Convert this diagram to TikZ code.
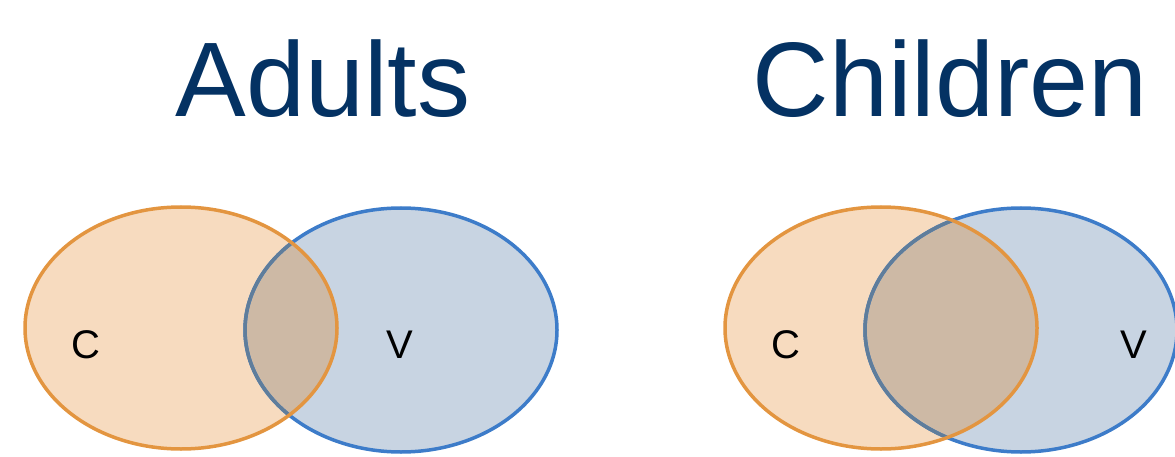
\documentclass[tikz,border=0pt]{standalone}
\usepackage{fontspec}
\setmainfont{Liberation Sans}
\definecolor{titleblue}{RGB}{4,50,99}
\definecolor{cfill}{RGB}{247,219,191}
\definecolor{cline}{RGB}{227,149,64}
\definecolor{vfill}{RGB}{200,212,226}
\definecolor{vline}{RGB}{61,124,201}
\definecolor{ofill}{RGB}{205,185,165}
\definecolor{oline}{RGB}{95,125,155}
\tikzset{
  title/.style={text=titleblue, font=\fontsize{106}{114}\selectfont, anchor=base, inner sep=0pt},
  setlabel/.style={text=black, font=\fontsize{40}{44}\selectfont, anchor=base, inner sep=0pt},
  ring/.style={line width=3.5pt},
}
\newcommand{\venn}[4]{% cx cy of C, cx cy of V
  \fill[cfill] (#1,#2) ellipse [x radius=156pt, y radius=121pt];
  \fill[vfill] (#3,#4) ellipse [x radius=156pt, y radius=122pt];
  \begin{scope}
    \clip (#1,#2) ellipse [x radius=156pt, y radius=121pt];
    \fill[ofill] (#3,#4) ellipse [x radius=156pt, y radius=122pt];
  \end{scope}
  \draw[ring, vline] (#3,#4) ellipse [x radius=156pt, y radius=122pt];
  \begin{scope}
    \clip (#1,#2) ellipse [x radius=154pt, y radius=119pt];
    \draw[ring, oline] (#3,#4) ellipse [x radius=156pt, y radius=122pt];
  \end{scope}
  \draw[ring, cline] (#1,#2) ellipse [x radius=156pt, y radius=121pt];
}
\begin{document}
\begin{tikzpicture}[x=1pt,y=-1pt]
  \useasboundingbox (0,0) rectangle (1175,457);
  \venn{181}{328}{401}{330}
  \venn{881}{328}{1021}{330}
  \node[title] (adults) at (323,117) {Adults};
  \node[title] (children) at (950,117) {Children};
  \node[setlabel] (ac) at (86,358) {C};
  \node[setlabel] (av) at (400,358) {V};
  \node[setlabel] (cc) at (786,358) {C};
  \node[setlabel] (cv) at (1134,358) {V};
\end{tikzpicture}
\end{document}
